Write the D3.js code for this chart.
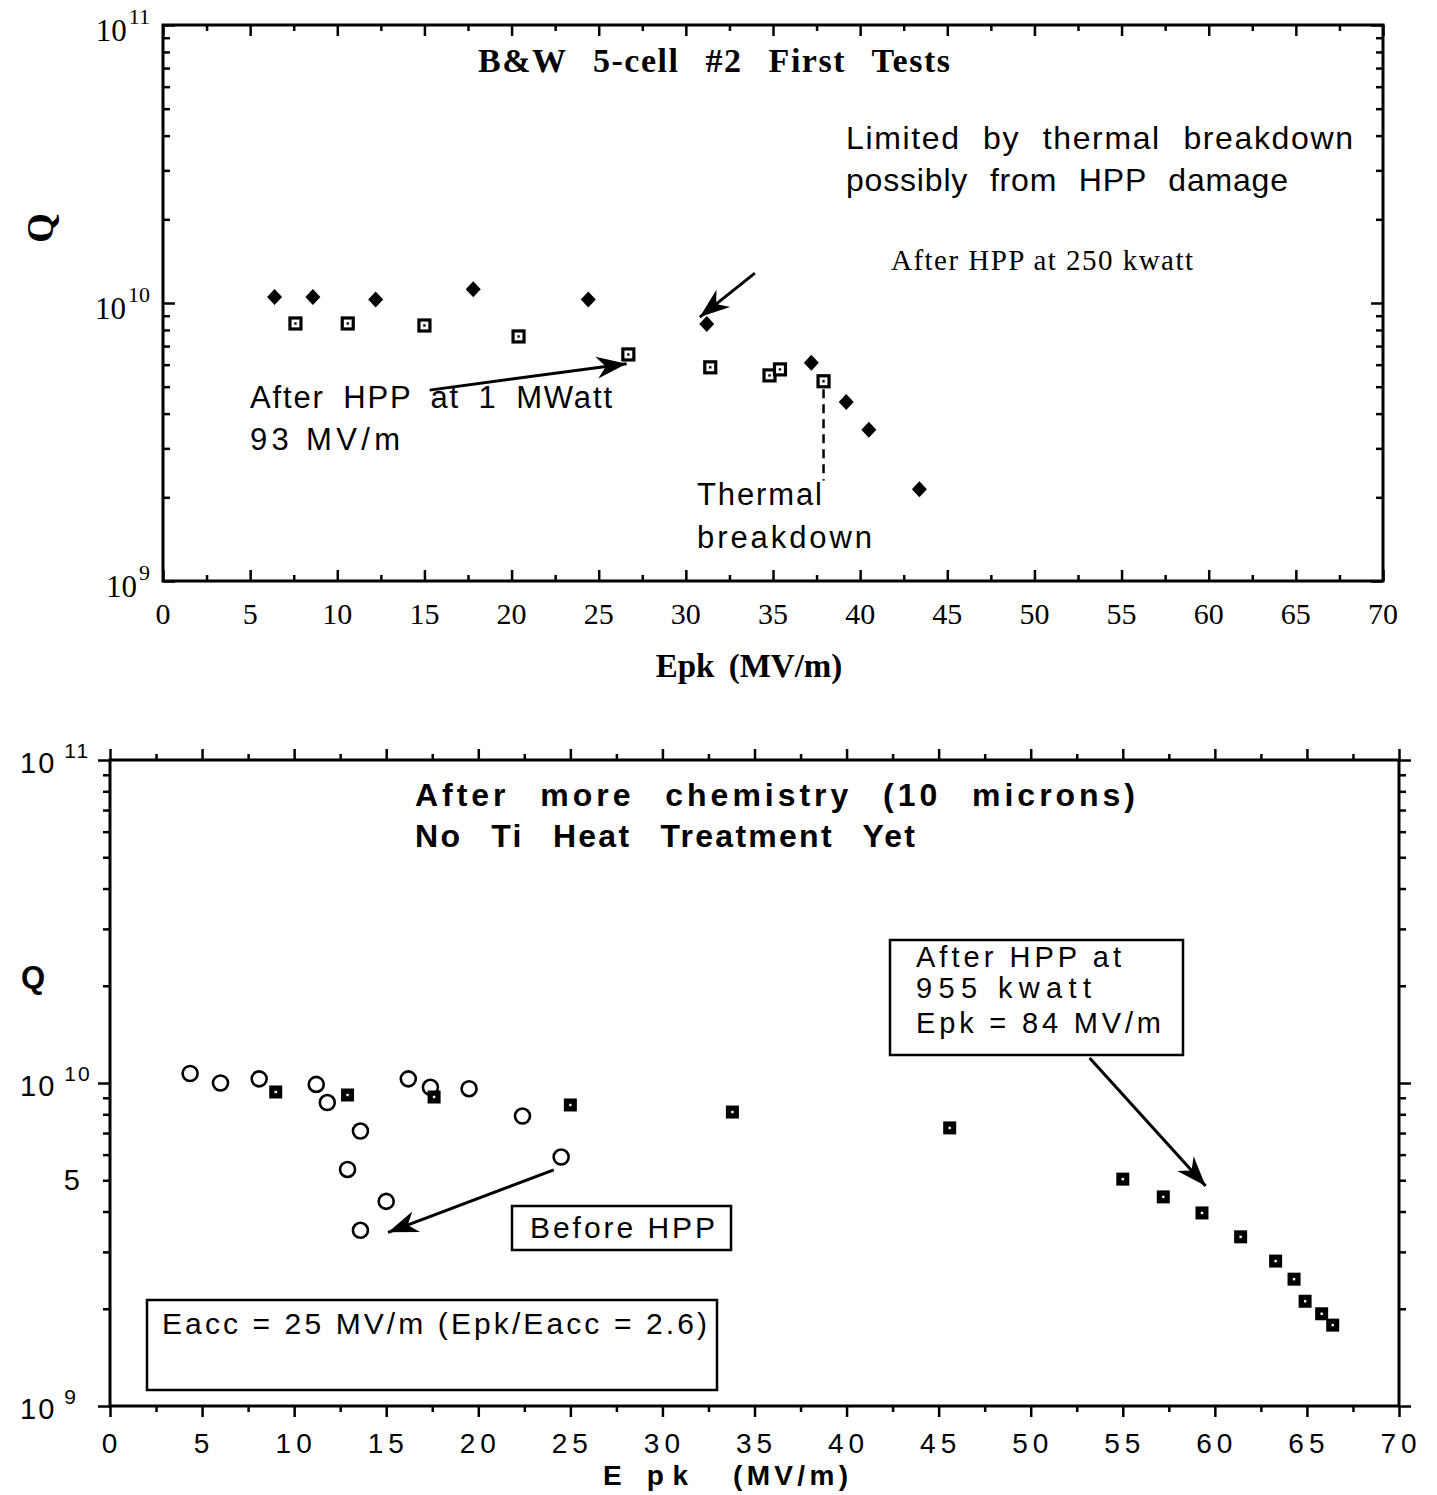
<!DOCTYPE html>
<html><head><meta charset="utf-8">
<script src="https://cdn.jsdelivr.net/npm/d3@7/dist/d3.min.js"></script>
<style>body{margin:0;background:#fff}</style>
</head><body>
<svg id="c" width="1437" height="1495" xmlns="http://www.w3.org/2000/svg"></svg>
<script>
// ---------- data ----------
const xMajorTicks = [0,5,10,15,20,25,30,35,40,45,50,55,60,65,70];
const xMinorTicks = [2.5,7.5,12.5,17.5,22.5,27.5,32.5,37.5,42.5,47.5,52.5,57.5,62.5,67.5];
const yMajorTicks = [1e9, 1e10, 1e11];
const yMajorExponents = ["9", "10", "11"];
const yExtraTick = 5e9, yExtraLabel = "5";

// top panel: "B&W 5-cell #2 First Tests"
const topDiamondE = [6.4, 8.6, 12.2, 17.8, 24.4, 31.2, 37.2, 39.2, 40.5, 43.4];
const topDiamondQ = [1.05e10, 1.05e10, 1.03e10, 1.12e10, 1.03e10, 8.4e9, 6.1e9, 4.4e9, 3.5e9, 2.14e9];
const topSquareE = [7.6, 10.6, 15.0, 20.4, 26.7, 31.4, 34.8, 35.4, 37.9];
const topSquareQ = [8.44e9, 8.44e9, 8.3e9, 7.58e9, 6.53e9, 5.87e9, 5.49e9, 5.77e9, 5.23e9];

// bottom panel: "After more chemistry"
const botCircleE = [4.35, 6.0, 8.1, 11.2, 11.8, 13.6, 12.9, 15.0, 13.6, 16.2, 17.4, 19.5, 22.4, 24.5];
const botCircleQ = [1.07e10, 1.0e10, 1.03e10, 0.99e10, 8.7e9, 7.1e9, 5.4e9, 4.3e9, 3.5e9, 1.03e10, 9.7e9, 9.6e9, 7.9e9, 5.9e9];
const botSquareE = [9.0, 12.9, 17.6, 25.0, 33.8, 45.6, 55.0, 57.2, 59.3, 61.4, 63.3, 64.3, 64.9, 65.8, 66.4];
const botSquareQ = [9.38e9, 9.18e9, 9.05e9, 8.55e9, 8.13e9, 7.26e9, 5.04e9, 4.44e9, 3.96e9, 3.34e9, 2.81e9, 2.47e9, 2.11e9, 1.93e9, 1.78e9];

// ---------- drawing ----------
const SERIF = "'Liberation Serif','Times New Roman',serif";
const SANS = "'Liberation Sans',Arial,Helvetica,sans-serif";
const svg = d3.select("#c");

const defs = svg.append("defs");
defs.append("marker").attr("id","ah").attr("viewBox","-30 -12 32 24")
  .attr("refX",0).attr("refY",0).attr("markerWidth",32).attr("markerHeight",24)
  .attr("markerUnits","userSpaceOnUse").attr("orient","auto")
  .append("path").attr("d","M0,0 L-30,-11 L-21,0 L-30,11 Z").attr("fill","#000");

function makePanel(box) {
  const x = d3.scaleLinear().domain([0,70]).range([box.left, box.right]);
  const y = d3.scaleLog().domain([1e9,1e11]).range([box.bottom, box.top]);
  const g = svg.append("g");
  const dir = box.inward ? -1 : 1;
  const yMinor = y.ticks().filter(v => !yMajorTicks.includes(v));
  function axis(gen, scale, vals, size, tr) {
    const a = g.append("g").attr("transform", tr)
      .call(gen(scale).tickValues(vals).tickSize(size * dir).tickFormat(""));
    a.select(".domain").remove();
    a.selectAll("line").attr("stroke","#000").attr("stroke-width",2.5);
  }
  [[xMajorTicks, 11],[xMinorTicks, 6]].forEach(([v,s]) => {
    axis(d3.axisBottom, x, v, s, `translate(0,${box.bottom})`);
    axis(d3.axisTop, x, v, s, `translate(0,${box.top})`);
  });
  [[yMajorTicks, 12],[yMinor, 7]].forEach(([v,s]) => {
    axis(d3.axisLeft, y, v, s, `translate(${box.left},0)`);
    axis(d3.axisRight, y, v, s, `translate(${box.right},0)`);
  });
  g.append("rect").attr("x",box.left).attr("y",box.top)
    .attr("width",box.right-box.left).attr("height",box.bottom-box.top)
    .attr("fill","none").attr("stroke","#000").attr("stroke-width",3);
  return {x, y, g};
}

function txt(g, s, x, y, opt) {
  const t = g.append("text").attr("x",x).attr("y",y).text(s)
    .attr("font-family", opt.family).attr("font-size", opt.size)
    .attr("font-weight", opt.weight || "normal").attr("fill","#000");
  if (opt.anchor) t.attr("text-anchor", opt.anchor);
  if (opt.ws) t.attr("word-spacing", opt.ws);
  if (opt.ls) t.attr("letter-spacing", opt.ls);
  if (opt.len) t.attr("textLength", opt.len).attr("lengthAdjust","spacing");
  return t;
}
function arrow(p, e0, q0, e1, q1) {
  p.g.append("line").attr("x1",p.x(e0)).attr("y1",p.y(q0)).attr("x2",p.x(e1)).attr("y2",p.y(q1))
    .attr("stroke","#000").attr("stroke-width",3).attr("marker-end","url(#ah)");
}

// ===== TOP PANEL =====
const T = makePanel({left:163, right:1383, top:25, bottom:581, inward:true});
xMajorTicks.forEach(v => txt(T.g, String(v), T.x(v), 624, {family:SERIF, size:30, anchor:"middle"}));
yMajorTicks.forEach((v,i) => {
  const t = T.g.append("text").attr("x",150).attr("y",T.y(v)+16).attr("text-anchor","end")
    .attr("font-family",SERIF).attr("font-size",31);
  t.append("tspan").text("10");
  t.append("tspan").attr("dx",2).attr("dy",-17).attr("font-size",22).text(yMajorExponents[i]);
});
txt(T.g, "Epk  (MV/m)", 749, 677, {family:SERIF, size:33, weight:"bold", anchor:"middle", ws:6});
txt(T.g, "Q", 0, 0, {family:SERIF, size:38, weight:"bold", anchor:"middle"})
  .attr("transform","translate(53,228) rotate(-90)");
txt(T.g, "B&W 5-cell #2 First Tests", 478, 72, {family:SERIF, size:34, weight:"bold", ws:16, len:472});
txt(T.g, "Limited by thermal breakdown", 846, 149, {family:SANS, size:32, ws:12, len:507});
txt(T.g, "possibly from HPP damage", 846, 191, {family:SANS, size:32, ws:12, len:442});
txt(T.g, "After HPP at 250 kwatt", 891, 270, {family:SERIF, size:29, len:302});
txt(T.g, "After HPP at 1 MWatt", 250, 408, {family:SANS, size:31, ws:8, len:362});
txt(T.g, "93  MV/m", 250, 450, {family:SANS, size:31, len:150});
txt(T.g, "Thermal", 697, 505, {family:SANS, size:31, len:125});
txt(T.g, "breakdown", 697, 548, {family:SANS, size:31, len:175});
arrow(T, 33.96, 1.28e10, 30.8, 8.9e9);
arrow(T, 15.3, 4.86e9, 26.6, 6.05e9);
T.g.append("line").attr("x1",T.x(topSquareE[8])).attr("x2",T.x(topSquareE[8]))
  .attr("y1",T.y(4.9e9)).attr("y2",T.y(2.3e9))
  .attr("stroke","#000").attr("stroke-width",2.5).attr("stroke-dasharray","9,6");
// markers
T.g.selectAll(".dia").data(d3.zip(topDiamondE, topDiamondQ)).join("path")
  .attr("d","M0,-8 L7.5,0 L0,8 L-7.5,0 Z").attr("fill","#000")
  .attr("transform", d => `translate(${T.x(d[0])},${T.y(d[1])})`);
const sq = T.g.selectAll(".sq").data(d3.zip(topSquareE, topSquareQ)).join("g")
  .attr("transform", d => `translate(${T.x(d[0])},${T.y(d[1])})`);
sq.append("rect").attr("x",-5.5).attr("y",-5.5).attr("width",11).attr("height",11)
  .attr("fill","#fff").attr("stroke","#000").attr("stroke-width",3.2);
sq.append("rect").attr("x",-1.2).attr("y",-1.2).attr("width",2.4).attr("height",2.4).attr("fill","#000");

// ===== BOTTOM PANEL =====
const B = makePanel({left:110, right:1399, top:760, bottom:1406, inward:false});
xMajorTicks.forEach(v => txt(B.g, String(v), B.x(v)+2, 1453, {family:SANS, size:28, anchor:"middle", ls:5}));
yMajorTicks.forEach((v,i) => {
  const t = B.g.append("text").attr("x",20).attr("y",B.y(v)+13)
    .attr("font-family",SANS).attr("font-size",29).attr("letter-spacing",2);
  t.append("tspan").text("10");
  t.append("tspan").attr("dx",8).attr("dy",-15).attr("font-size",21).text(yMajorExponents[i]);
});
txt(B.g, yExtraLabel, 80, B.y(yExtraTick)+10, {family:SANS, size:29, anchor:"end"});
txt(B.g, "Q", 21, 988, {family:SANS, size:31, weight:"bold"});
txt(B.g, "E  pk", 603, 1485, {family:SANS, size:28, weight:"bold", len:85});
txt(B.g, "(MV/m)", 733, 1485, {family:SANS, size:28, weight:"bold", len:115});
txt(B.g, "After more chemistry (10 microns)", 415, 806, {family:SANS, size:32, weight:"bold", ws:18, len:720});
txt(B.g, "No Ti Heat Treatment Yet", 415, 847, {family:SANS, size:32, weight:"bold", ws:18, len:500});
// boxes
function box(g, x0, y0, x1, y1) {
  g.append("rect").attr("x",x0).attr("y",y0).attr("width",x1-x0).attr("height",y1-y0)
    .attr("fill","#fff").attr("stroke","#000").attr("stroke-width",2.5);
}
box(B.g, 890, 940, 1183, 1055);
txt(B.g, "After HPP at", 916, 967, {family:SANS, size:29, len:205});
txt(B.g, "955  kwatt", 916, 998, {family:SANS, size:29, len:175});
txt(B.g, "Epk = 84 MV/m", 916, 1033, {family:SANS, size:29, len:245});
box(B.g, 512, 1206, 731, 1250);
txt(B.g, "Before HPP", 530, 1238, {family:SANS, size:30, len:185});
box(B.g, 147, 1300, 717, 1390);
txt(B.g, "Eacc = 25 MV/m (Epk/Eacc = 2.6)", 162, 1334, {family:SANS, size:30, len:545});
arrow(B, 53.2, 1.195e10, 59.5, 4.8e9);
arrow(B, 24.1, 5.38e9, 15.1, 3.45e9);
// markers
B.g.selectAll(".ci").data(d3.zip(botCircleE, botCircleQ)).join("circle")
  .attr("cx", d => B.x(d[0])).attr("cy", d => B.y(d[1])).attr("r",7.5)
  .attr("fill","none").attr("stroke","#000").attr("stroke-width",2.6);
const bs = B.g.selectAll(".bs").data(d3.zip(botSquareE, botSquareQ)).join("g")
  .attr("transform", d => `translate(${B.x(d[0])},${B.y(d[1])})`);
bs.append("rect").attr("x",-6.5).attr("y",-6.5).attr("width",13).attr("height",13).attr("fill","#000");
bs.append("rect").attr("x",-1.2).attr("y",-1.2).attr("width",2.4).attr("height",2.4).attr("fill","#fff");
</script>
</body></html>
